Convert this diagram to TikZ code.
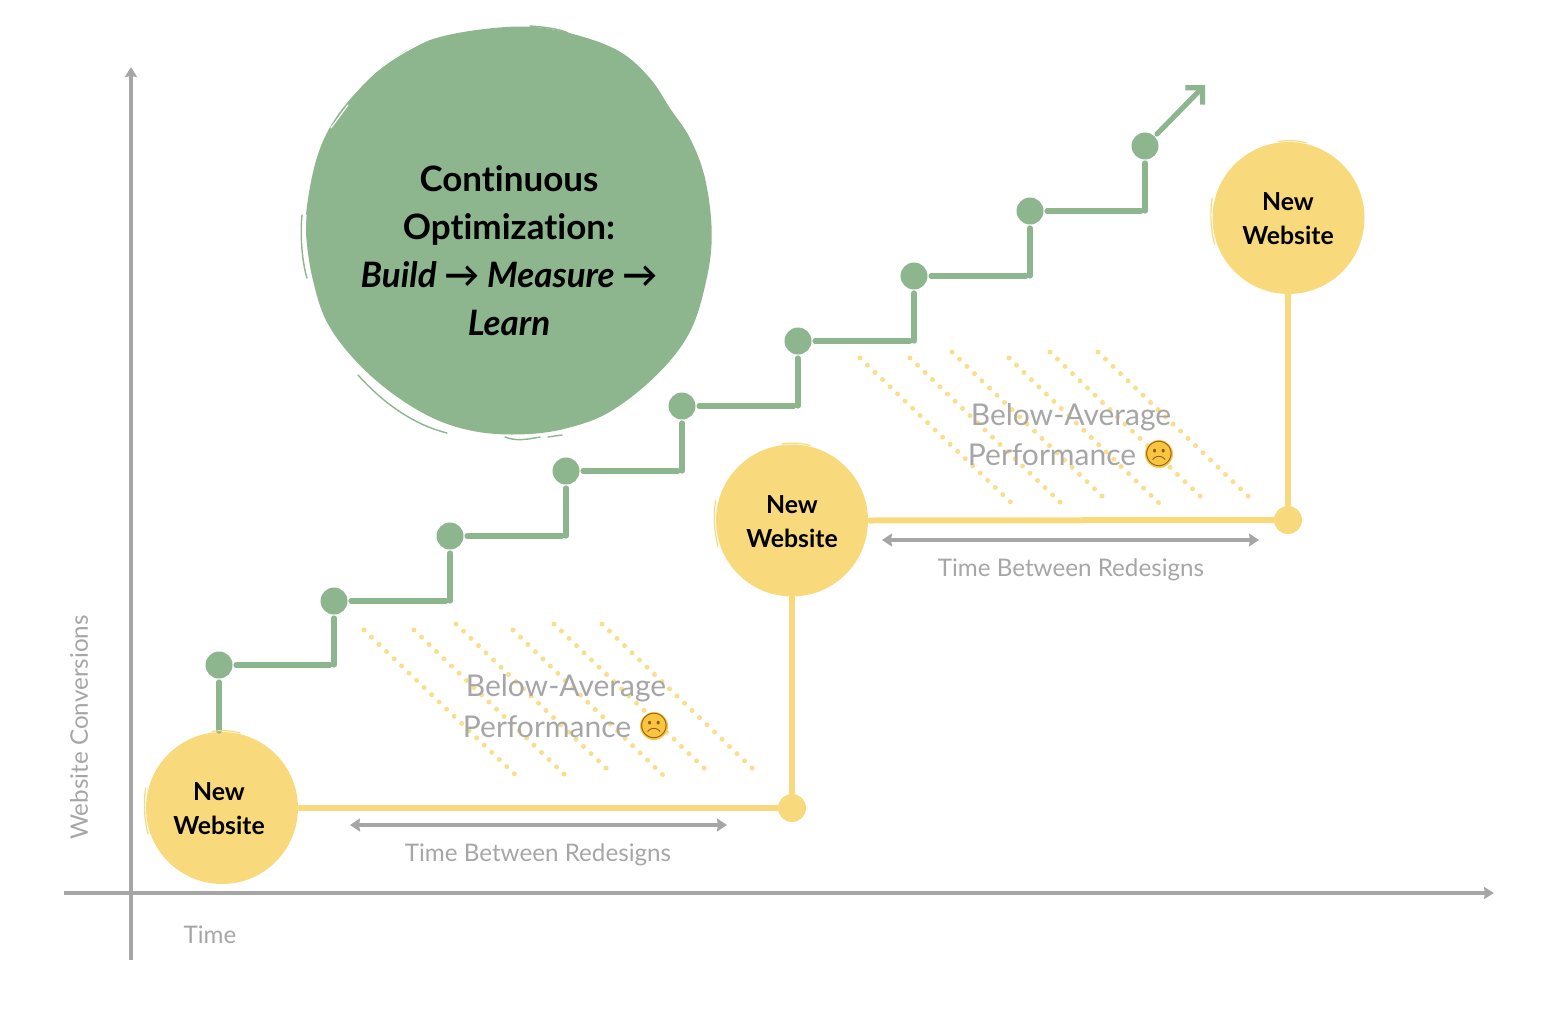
\documentclass[tikz,border=0pt]{standalone}
\usepackage{fontspec}
\setmainfont[Ligatures=NoCommon]{Lato}
\newfontfamily\emojifont{Noto Emoji}
\usetikzlibrary{arrows.meta,calc}
\definecolor{gr}{HTML}{8DB58E}
\definecolor{ye}{HTML}{F8DA7C}
\definecolor{yl}{HTML}{F9DE8E}
\definecolor{ax}{HTML}{A6A6A6}
\definecolor{em}{HTML}{F9C540}
\definecolor{embr}{HTML}{8A5A14}
\tikzset{
  x=1pt,y=-1pt,
  gdot/.style={circle,fill=gr,inner sep=0pt,minimum size=27pt,outer sep=3.5pt},
  ydot/.style={circle,fill=ye,inner sep=0pt,minimum size=28pt,outer sep=1pt},
  yblob/.style={circle,fill=ye,inner sep=0pt,minimum size=152pt,outer sep=1pt},
  gline/.style={draw=gr,line width=5.2pt,line cap=round,line join=miter},
  yline/.style={draw=ye,line width=6pt,line cap=round},
  axis/.style={draw=ax,line width=3.3pt,-{Stealth[length=10pt,width=12pt,inset=1pt]}},
  span/.style={draw=ax,line width=3.3pt,{Stealth[length=10pt,width=13pt,inset=1pt]}-{Stealth[length=10pt,width=13pt,inset=1pt]}},
  hatch/.style={draw=yl,line width=5pt,line cap=round,dash pattern=on 0pt off 10.4pt},
  ytext/.style={font=\bfseries\fontsize{24.8}{34}\selectfont,align=center,text=black,inner sep=0pt},
  gtext/.style={font=\fontsize{24.2}{29}\selectfont,text=ax,inner sep=0pt},
  ptext/.style={font=\fontsize{30}{40}\selectfont,text=ax,inner sep=0pt},
  sad/.style={circle,fill=em,inner sep=0pt,minimum size=28pt},
  sadface/.style={inner sep=0pt,text=embr,font=\emojifont\fontsize{25}{25}\selectfont},
  streak/.style={draw=white,line width=1.2pt,line cap=round},
  gstreak/.style={draw=gr,line width=1.4pt,line cap=round},
  ystreak/.style={draw=ye,line width=1.2pt,line cap=round},
}
\begin{document}
\begin{tikzpicture}
\useasboundingbox (0,0) rectangle (1558,1030);
% hatch areas
\foreach \dx/\dy in {0/0,496/-272}{
\begin{scope}[shift={(\dx pt,-\dy pt)}]
\draw[hatch] (364,630) -- (515.5,775);
\draw[hatch] (414,630) -- (565,775);
\draw[hatch] (456,624) -- (607,769);
\draw[hatch] (513,630) -- (663,775);
\draw[hatch] (554,624) -- (705,769);
\draw[hatch] (602,624) -- (753,769);
\end{scope}}
% axes
\coordinate (yb) at (131,960); \coordinate (yt) at (131,67);
\coordinate (xl) at (64,893); \coordinate (xr) at (1494,893);
\draw[axis] (yb) -- (yt);
\draw[axis] (xl) -- (xr);
% big blob
\fill[gr] plot[smooth cycle,tension=0.6] coordinates {(530,26.7) (576.7,35) (620,51.7) (650,78.3) (670,108.3) (690,138.3) (705,178.3) (711.7,231.7) (706.7,278.3) (690,331.7) (656.7,375) (610,411.7) (566.7,428.3) (523.3,434.3) (476.7,431.7) (433.3,418.3) (390,391.7) (353.3,358.3) (326.7,321.7) (313.3,281.7) (306.7,241.7) (306.7,208.3) (316.7,158.3) (333.3,121.7) (360,88.3) (393.3,58.3) (430,40) (476.7,30)};
\draw[gstreak] (302,215) .. controls (300,235) and (302,262) .. (307,278);
\draw[gstreak] (530,26) .. controls (545,27) and (560,29) .. (568,33);
\draw[gstreak] (358,375) .. controls (385,405) and (415,425) .. (447,433);
\draw[gstreak] (505,437) .. controls (515,441) and (525,440) .. (540,437);
\draw[gstreak] (548,437) -- (562,435);
\draw[streak] (356,91) .. controls (370,74) and (395,55) .. (428,40);
\draw[streak] (331,128) -- (348,105);
\draw[streak] (306,215) .. controls (304,240) and (306,258) .. (309,270);
\draw[streak] (358,368) .. controls (390,405) and (420,422) .. (452,430);
\node[font=\fontsize{35}{48}\selectfont,align=center,text=black,inner sep=0pt] (bt) at (509,251)
  {\textbf{Continuous}\\\textbf{Optimization:}\\\textbf{\textit{Build → Measure →}}\\\textbf{\textit{Learn}}};
% staircase
\foreach \n/\x/\y in {1/219/665,2/334/601,3/450/536,4/566/471,5/682/406,6/798/341,7/914/276,8/1030/211,9/1145/146}{
  \node[gdot] (d\n) at (\x,\y) {};
}
\foreach \a/\b in {1/2,2/3,3/4,4/5,5/6,6/7,7/8,8/9}{
  \coordinate (c\a) at (d\a.east -| d\b.south);
  \draw[gline] (d\a.east) -- ($(c\a)+(-4,0)$);
  \draw[gline] (c\a) -- (d\b.south);
}
\coordinate (tip) at (1205,85);
\draw[gline,-{Straight Barb[length=12pt,width=24pt,line width=5.2pt]}] (d9.45) -- (tip);
% yellow
\node[yblob] (y1) at (222,808) {};
\node[yblob] (y2) at (792,520.5) {};
\node[yblob] (y3) at (1288.5,218) {};
\node[ydot] (yd1) at (792,808) {};
\node[ydot] (yd2) at (1288,520) {};
\draw[yline] (y1) ++(78,0) -- (yd1);
\draw[yline] (y2) -- (yd1);
\draw[yline] (y2) ++(78,0) -- (yd2);
\draw[yline] (yd2 |- y3.south) -- (yd2);
\draw[gline] (d1) -- (d1 |- y1.north);
\foreach \ox/\oy in {222/808,792/520.5,1288.5/218}{
  \draw[ystreak] (\ox-76.5,\oy-20) .. controls (\ox-78.5,\oy-5) and (\ox-78,\oy+10) .. (\ox-74,\oy+26);
  \draw[ystreak] (\ox-10,\oy-76.5) .. controls (\ox,\oy-78) and (\ox+10,\oy-77.5) .. (\ox+18,\oy-75);
}
\node[ytext] (t1) at (219,809) {New\\Website};
\node[ytext] (t2) at (792,522) {New\\Website};
\node[ytext] (t3) at (1288,219) {New\\Website};
% spans
\coordinate (s1a) at (350,825); \coordinate (s1b) at (727,825);
\coordinate (s2a) at (882,540); \coordinate (s2b) at (1259,540);
\draw[span] (s1a) -- (s1b);
\draw[span] (s2a) -- (s2b);
\node[gtext] (l1) at (538,855) {Time Between Redesigns};
\node[gtext] (l2) at (1071,570) {Time Between Redesigns};
\node[gtext] (lx) at (210,935) {Time};
\node[gtext,rotate=90] (ly) at (79,727.5) {Website Conversions};
% performance
\node[ptext,align=center] (p1) at (566,688) {Below-Average};
\node[ptext] (p1b) at (547,727) {Performance};
\node[sad] (e1) at (654,726) {};
\node[sadface] (f1) at (e1) {☹};
\node[ptext,align=center] (p2) at (1071,417) {Below-Average};
\node[ptext] (p2b) at (1052,455) {Performance};
\node[sad] (e2) at (1159,454) {};
\node[sadface] (f2) at (e2) {☹};
\end{tikzpicture}
\end{document}
